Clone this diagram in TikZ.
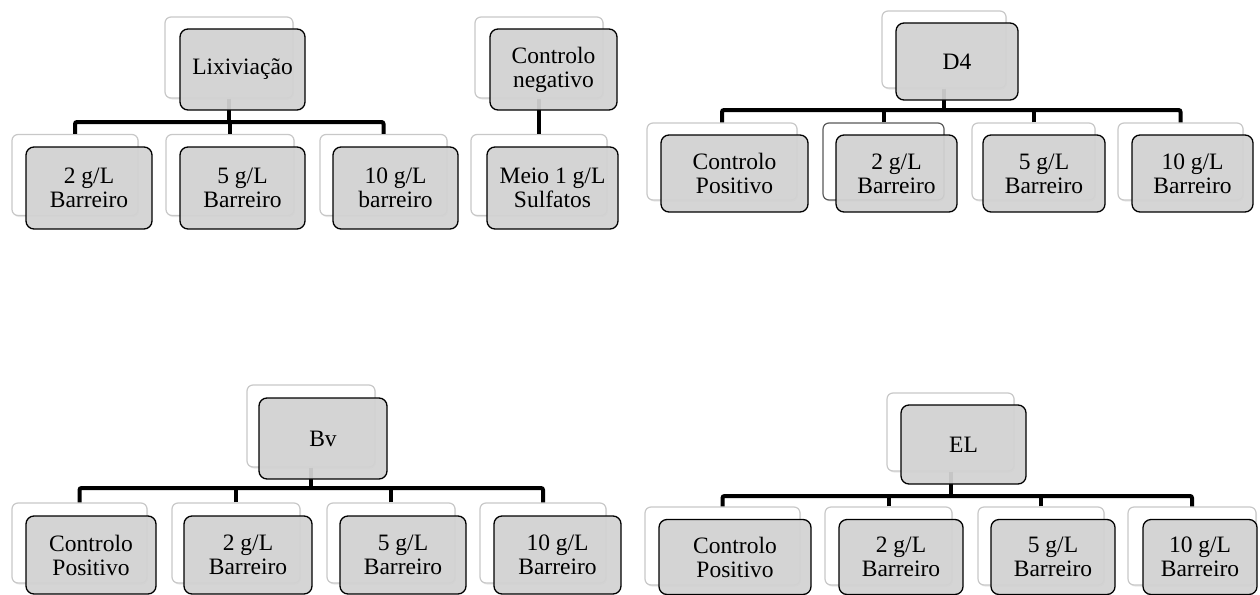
\documentclass[tikz,border=0pt]{standalone}
\usepackage{fontspec}
\setmainfont{Liberation Serif}
\usetikzlibrary{shadows}
\definecolor{boxfill}{RGB}{210,210,210}
\definecolor{backline}{RGB}{200,200,200}
\tikzset{
  backbox/.style={draw=backline, line width=1.2pt, fill=white, rounded corners=6pt,
    inner sep=0pt, minimum width=#1, minimum height=80pt,
    drop shadow={opacity=0.18, shadow xshift=1pt, shadow yshift=-1.5pt}},
  frontbox/.style={draw=black, line width=1.3pt, fill=boxfill, fill opacity=0.94, text opacity=1,
    rounded corners=8pt, inner sep=0pt, minimum width=#1, minimum height=80pt, align=center,
    font=\fontsize{23.5}{24}\selectfont},
  conn/.style={line width=4pt, draw=black, rounded corners=2pt},
}
\begin{document}
\begin{tikzpicture}[x=1pt,y=-1pt]
\useasboundingbox (0,0) rectangle (1260,594);
% bar levels
\coordinate (bar1) at (0,122);
\coordinate (bar3) at (0,110);
\coordinate (bar4) at (0,488);
\coordinate (bar5) at (0,496);

% ---------- Group 1: Lixiviacao
\node[backbox=128pt, minimum height=81pt] (p1b) at (229,57.5) {};
\node[backbox=126pt, minimum height=81pt] (c11b) at (75,175) {};
\node[backbox=128pt, minimum height=81pt] (c12b) at (230,175) {};
\node[backbox=127pt, minimum height=81pt] (c13b) at (383.5,175) {};
% ---------- Group 2: Controlo negativo
\node[backbox=128pt, minimum height=81pt] (p2b) at (539,57.5) {};
\node[backbox=136pt, minimum height=81pt] (c21b) at (539,175) {};
% ---------- Group 3: D4
\node[backbox=124pt, minimum height=77pt] (p3b) at (944,49.5) {};
\node[backbox=150pt, minimum height=77pt] (c31b) at (722,161.5) {};
\node[backbox=121pt, minimum height=77pt, draw=gray!70!black, drop shadow={opacity=0}] (c32b) at (883.5,161.5) {};
\node[backbox=123pt, minimum height=77pt] (c33b) at (1033.5,161.5) {};
\node[backbox=125pt, minimum height=77pt] (c34b) at (1180.5,161.5) {};
% ---------- Group 4: Bv
\node[backbox=128pt, minimum height=82pt] (p4b) at (311,426) {};
\node[backbox=135pt, minimum height=80pt] (c41b) at (79.5,543) {};
\node[backbox=128pt, minimum height=80pt] (c42b) at (236,543) {};
\node[backbox=128pt, minimum height=80pt] (c43b) at (391,543) {};
\node[backbox=126pt, minimum height=80pt] (c44b) at (543,543) {};
% ---------- Group 5: EL
\node[backbox=127pt, minimum height=78pt] (p5b) at (950.5,432) {};
\node[backbox=155pt, minimum height=78pt] (c51b) at (722.5,546) {};
\node[backbox=127pt, minimum height=78pt] (c52b) at (888.5,546) {};
\node[backbox=126pt, minimum height=78pt] (c53b) at (1041,546) {};
\node[backbox=128pt, minimum height=78pt] (c54b) at (1192,546) {};

% ---------- connectors
\draw[conn] (c11b.north) |- (bar1 -| c13b.north) -- (c13b.north);
\draw[conn] (p1b.south) -- (p1b.south |- bar1);
\draw[conn] (c12b.north) -- (c12b.north |- bar1);
\draw[conn] (p2b.south) -- (c21b.north);
\draw[conn] (c31b.north) |- (bar3 -| c34b.north) -- (c34b.north);
\draw[conn] (p3b.south) -- (p3b.south |- bar3);
\draw[conn] (c32b.north) -- (c32b.north |- bar3);
\draw[conn] (c33b.north) -- (c33b.north |- bar3);
\draw[conn] (c41b.north) |- (bar4 -| c44b.north) -- (c44b.north);
\draw[conn] (p4b.south) -- (p4b.south |- bar4);
\draw[conn] (c42b.north) -- (c42b.north |- bar4);
\draw[conn] (c43b.north) -- (c43b.north |- bar4);
\draw[conn] (c51b.north) |- (bar5 -| c54b.north) -- (c54b.north);
\draw[conn] (p5b.south) -- (p5b.south |- bar5);
\draw[conn] (c52b.north) -- (c52b.north |- bar5);
\draw[conn] (c53b.north) -- (c53b.north |- bar5);

% ---------- front boxes
\node[frontbox=125pt, minimum height=81pt] (p1) at (242.5,69.5) {Lixiviação};
\node[frontbox=126pt, minimum height=82pt] (c11) at (89,188) {2 g/L\\Barreiro};
\node[frontbox=125pt, minimum height=82pt] (c12) at (242.5,188) {5 g/L\\Barreiro};
\node[frontbox=125pt, minimum height=82pt] (c13) at (395.5,188) {10 g/L\\barreiro};
\node[frontbox=127pt, minimum height=81pt] (p2) at (553.5,69.5) {Controlo\\negativo};
\node[frontbox=131pt, minimum height=82pt] (c21) at (552.5,188) {Meio 1 g/L\\Sulfatos};

\node[frontbox=122pt, minimum height=77pt] (p3) at (957,61.5) {D4};
\node[frontbox=147pt, minimum height=77pt] (c31) at (734.5,173.5) {Controlo\\Positivo};
\node[frontbox=121pt, minimum height=77pt] (c32) at (896.5,173.5) {2 g/L\\Barreiro};
\node[frontbox=122pt, minimum height=77pt] (c33) at (1044,173.5) {5 g/L\\Barreiro};
\node[frontbox=121pt, minimum height=77pt] (c34) at (1192.5,173.5) {10 g/L\\Barreiro};

\node[frontbox=128pt, minimum height=81pt] (p4) at (323,438.5) {Bv};
\node[frontbox=130pt, minimum height=78pt] (c41) at (91,555) {Controlo\\Positivo};
\node[frontbox=128pt, minimum height=78pt] (c42) at (248,555) {2 g/L\\Barreiro};
\node[frontbox=126pt, minimum height=78pt] (c43) at (403,555) {5 g/L\\Barreiro};
\node[frontbox=127pt, minimum height=78pt] (c44) at (557.5,555) {10 g/L\\Barreiro};

\node[frontbox=125pt, minimum height=79pt] (p5) at (963.5,444.5) {EL};
\node[frontbox=152pt, minimum height=75pt] (c51) at (735,557) {Controlo\\Positivo};
\node[frontbox=124pt, minimum height=75pt] (c52) at (901,557) {2 g/L\\Barreiro};
\node[frontbox=124pt, minimum height=75pt] (c53) at (1053,557) {5 g/L\\Barreiro};
\node[frontbox=114pt, minimum height=75pt] (c54) at (1200,557) {10 g/L\\Barreiro};
\end{tikzpicture}
\end{document}
